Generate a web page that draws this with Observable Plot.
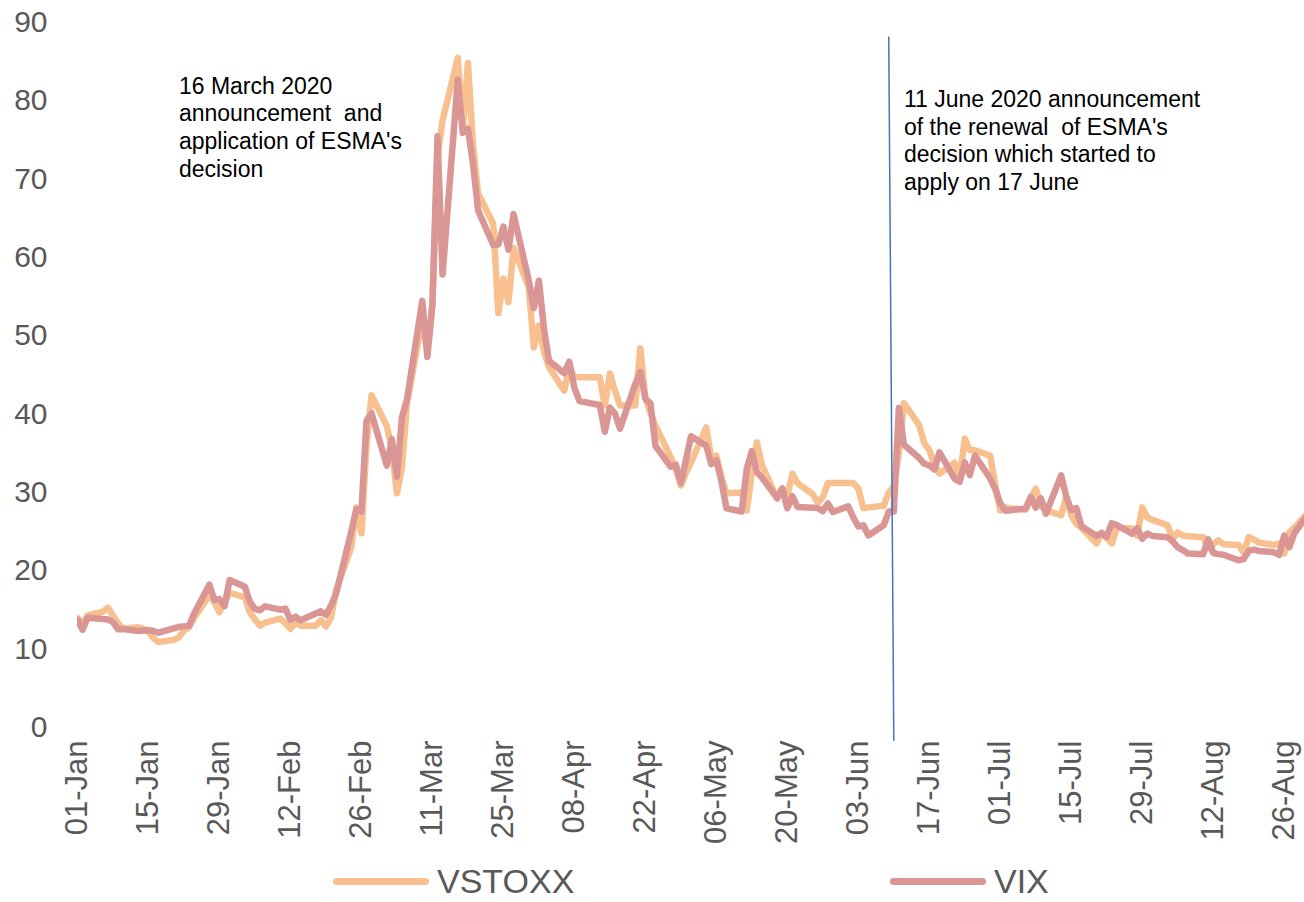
<!DOCTYPE html>
<html>
<head>
<meta charset="utf-8">
<script src="https://cdn.jsdelivr.net/npm/d3@7"></script>
<script src="https://cdn.jsdelivr.net/npm/@observablehq/plot@0.6"></script>
<style>
  html, body { margin: 0; padding: 0; background: #fff; }
  #wrap { position: relative; width: 1304px; height: 902px; overflow: hidden; font-family: "Liberation Sans", Arial, sans-serif; }
  #legend { position: absolute; left: 0; top: 860px; width: 1304px; height: 42px; }
  .item { position: absolute; top: 0; height: 42px; display: flex; align-items: center; }
  .sw { width: 96px; height: 7px; border-radius: 4px; margin-right: 8px; }
  .lab { font-size: 34px; color: #595959; line-height: 1; }
</style>
</head>
<body>
<div id="wrap"><div id="chart"></div><div id="legend"></div></div>
<script>
// ---- data (2020, month-day) ----
const seriesNames = ["VSTOXX", "VIX"];
const seriesColors = ["#F9C08F", "#D99694"];

const vstoxxDates = ["01-01","01-02","01-03","01-06","01-07","01-08","01-09","01-10","01-13","01-14","01-15","01-16","01-17","01-20","01-21","01-22","01-23","01-24","01-27","01-28","01-29","01-30","01-31",
"02-03","02-04","02-05","02-06","02-07","02-10","02-11","02-12","02-13","02-14","02-17","02-18","02-19","02-20","02-21","02-24","02-25","02-26","02-27","02-28",
"03-02","03-03","03-04","03-05","03-06","03-09","03-10","03-11","03-12","03-13","03-16","03-17","03-18","03-19","03-20","03-23","03-24","03-25","03-26","03-27","03-30","03-31",
"04-01","04-02","04-03","04-06","04-07","04-08","04-09","04-13","04-14","04-15","04-16","04-17","04-20","04-21","04-22","04-23","04-24","04-27","04-28","04-29","04-30",
"05-01","05-04","05-05","05-06","05-07","05-08","05-11","05-12","05-13","05-14","05-15","05-18","05-19","05-20","05-21","05-22","05-25","05-26","05-27","05-28","05-29",
"06-01","06-02","06-03","06-04","06-05","06-08","06-09","06-10","06-11","06-12","06-15","06-16","06-17","06-18","06-19","06-22","06-23","06-24","06-25","06-26","06-29","06-30",
"07-01","07-02","07-03","07-06","07-07","07-08","07-09","07-10","07-13","07-14","07-15","07-16","07-17","07-20","07-21","07-22","07-23","07-24","07-27","07-28","07-29","07-30","07-31",
"08-03","08-04","08-05","08-06","08-07","08-10","08-11","08-12","08-13","08-14","08-17","08-18","08-19","08-20","08-21","08-24","08-25","08-26","08-27","08-28","08-31"];
const vstoxxValues = [14.0,13.2,14.3,14.8,15.3,14.3,13.3,12.6,12.8,12.6,12.2,11.4,10.9,11.2,11.5,12.4,12.8,14.0,16.9,16.0,14.7,16.0,17.2,
16.6,14.7,13.8,13.0,13.4,13.9,13.3,12.6,13.4,13.0,13.0,13.7,12.9,14.0,17.5,23.0,28.1,24.8,36.0,42.4,
38.5,35.5,29.9,33.2,41.5,52.0,48.5,54.1,72.8,77.5,85.5,76.2,84.8,74.5,68.2,64.3,52.9,57.3,54.3,61.2,56.2,48.5,
51.3,48.0,46.0,43.0,46.0,44.7,44.7,44.7,41.1,45.2,43.0,41.1,41.1,48.4,42.1,40.2,38.5,34.5,33.0,30.9,32.5,
33.8,38.3,34.3,34.7,32.0,29.9,30.0,27.7,32.5,36.4,33.5,29.2,30.5,29.6,32.4,31.2,29.8,28.7,29.4,31.2,31.2,
31.2,31.2,30.5,28.0,28.1,28.3,30.0,30.8,35.0,41.4,38.6,36.3,35.4,33.6,32.4,33.8,31.8,36.9,35.4,35.4,34.7,31.0,
27.7,28.1,28.0,27.8,29.2,30.5,28.3,27.7,27.1,29.4,27.1,26.0,25.5,23.5,24.8,24.2,23.5,25.5,25.4,24.5,28.1,26.8,26.5,
25.8,24.1,24.9,24.5,24.4,24.3,22.9,23.4,23.9,23.4,23.3,22.3,24.3,24.0,23.6,23.3,23.5,22.2,24.9,25.5,27.6];

const vixDates = ["01-01","01-02","01-03","01-06","01-07","01-08","01-09","01-10","01-13","01-14","01-15","01-16","01-17","01-21","01-22","01-23","01-24","01-27","01-28","01-29","01-30","01-31",
"02-03","02-04","02-05","02-06","02-07","02-10","02-11","02-12","02-13","02-14","02-18","02-19","02-20","02-21","02-24","02-25","02-26","02-27","02-28",
"03-02","03-03","03-04","03-05","03-06","03-09","03-10","03-11","03-12","03-13","03-16","03-17","03-18","03-19","03-20","03-23","03-24","03-25","03-26","03-27","03-30","03-31",
"04-01","04-02","04-03","04-06","04-07","04-08","04-09","04-13","04-14","04-15","04-16","04-17","04-20","04-21","04-22","04-23","04-24","04-27","04-28","04-29","04-30",
"05-01","05-04","05-05","05-06","05-07","05-08","05-11","05-12","05-13","05-14","05-15","05-18","05-19","05-20","05-21","05-22","05-26","05-27","05-28","05-29",
"06-01","06-02","06-03","06-04","06-05","06-08","06-09","06-10","06-11","06-12","06-15","06-16","06-17","06-18","06-19","06-22","06-23","06-24","06-25","06-26","06-29","06-30",
"07-01","07-02","07-06","07-07","07-08","07-09","07-10","07-13","07-14","07-15","07-16","07-17","07-20","07-21","07-22","07-23","07-24","07-27","07-28","07-29","07-30","07-31",
"08-03","08-04","08-05","08-06","08-07","08-10","08-11","08-12","08-13","08-14","08-17","08-18","08-19","08-20","08-21","08-24","08-25","08-26","08-27","08-28","08-31"];
const vixValues = [13.78,12.47,14.02,13.85,13.79,13.45,12.54,12.56,12.32,12.39,12.42,12.32,12.10,12.85,12.91,12.98,14.56,18.23,16.28,16.39,15.49,18.84,
17.97,16.05,15.15,14.96,15.47,15.04,15.18,13.74,14.15,13.68,14.83,14.38,15.56,17.08,25.03,27.85,27.56,39.16,40.11,
33.42,36.82,31.99,39.62,41.94,54.46,47.30,53.90,75.47,57.83,82.69,75.91,76.45,72.00,66.04,61.59,61.67,63.95,61.00,65.54,57.08,53.54,
57.06,50.91,46.80,45.24,46.70,43.35,41.67,41.17,37.76,40.84,40.11,38.15,43.83,45.41,41.98,41.38,35.93,33.29,33.57,31.23,34.15,
37.19,35.97,33.61,34.12,31.44,27.98,27.57,33.04,35.28,32.61,31.89,29.30,30.53,27.99,29.53,28.16,28.01,27.62,28.59,27.51,
28.23,26.84,25.66,25.81,24.52,25.81,27.57,27.57,40.79,36.09,34.40,33.67,33.47,32.94,35.12,31.77,31.37,33.84,32.22,34.73,31.78,30.43,
28.62,27.68,27.94,29.43,28.08,29.26,27.29,32.19,29.52,27.76,28.00,25.68,24.46,24.84,24.32,26.08,25.84,24.74,25.44,24.10,24.76,24.46,
24.28,23.76,23.00,22.65,22.21,22.13,24.03,22.28,22.13,22.05,21.35,21.51,22.54,22.72,22.54,22.37,22.03,24.50,23.00,24.80,27.50];

const xTickDates = ["01-01","01-15","01-29","02-12","02-26","03-11","03-25","04-08","04-22","05-06","05-20","06-03","06-17","07-01","07-15","07-29","08-12","08-26"];
const yTicks = [0,10,20,30,40,50,60,70,80,90];

const notes = [
  {date: "01-21", value: 83.4, text: "16 March 2020\nannouncement  and\napplication of ESMA's\ndecision"},
  {date: "06-12", value: 81.7, text: "11 June 2020 announcement\nof the renewal  of ESMA's\ndecision which started to\napply on 17 June"}
];
const eventLine = {from: "06-09", to: "06-10", top: 88.2, bottom: -1.7};

// ---- build ----
const parse = s => new Date(`2020-${s}T00:00:00Z`);
const vstoxx = vstoxxDates.map((d, i) => ({date: parse(d), value: vstoxxValues[i]}));
const vix = vixDates.map((d, i) => ({date: parse(d), value: vixValues[i]}));
const noteData = notes.map(n => ({...n, date: parse(n.date)}));

const chart = Plot.plot({
  width: 1304,
  height: 860,
  marginLeft: 77,
  marginRight: 0,
  marginTop: 22,
  marginBottom: 133,
  style: {fontFamily: "'Liberation Sans', Arial, sans-serif", background: "white"},
  x: {type: "utc", domain: [parse("01-01"), parse("08-30")]},
  y: {domain: [0, 90]},
  marks: [
    Plot.axisY({ticks: yTicks, tickSize: 0, tickPadding: 30, fontSize: 30, color: "#595959", label: null}),
    Plot.axisX({ticks: xTickDates.map(parse), tickFormat: d3.utcFormat("%d-%b"), tickSize: 0, tickPadding: 13, tickRotate: -90, fontSize: 31, color: "#595959", label: null}),
    Plot.lineY(vstoxx, {x: "date", y: "value", stroke: seriesColors[0], strokeWidth: 6.5, strokeLinejoin: "round", strokeLinecap: "round", clip: true}),
    Plot.lineY(vix, {x: "date", y: "value", stroke: seriesColors[1], strokeWidth: 6.5, strokeLinejoin: "round", strokeLinecap: "round", clip: true}),
    Plot.link([eventLine], {x1: d => parse(d.from), x2: d => parse(d.to), y1: "top", y2: "bottom", stroke: "#4472C4", strokeWidth: 1.5}),
    Plot.text(noteData, {x: "date", y: "value", text: "text", textAnchor: "start", lineAnchor: "top", lineHeight: 1.2, fontSize: 23, fill: "#000"})
  ]
});
document.getElementById("chart").appendChild(chart);

// legend
const legend = document.getElementById("legend");
const legendLeft = [333, 890];
seriesNames.forEach((name, i) => {
  const item = document.createElement("div");
  item.className = "item";
  item.style.left = legendLeft[i] + "px";
  item.innerHTML = `<div class="sw" style="background:${seriesColors[i]}"></div><span class="lab">${name}</span>`;
  legend.appendChild(item);
});
</script>
</body>
</html>
